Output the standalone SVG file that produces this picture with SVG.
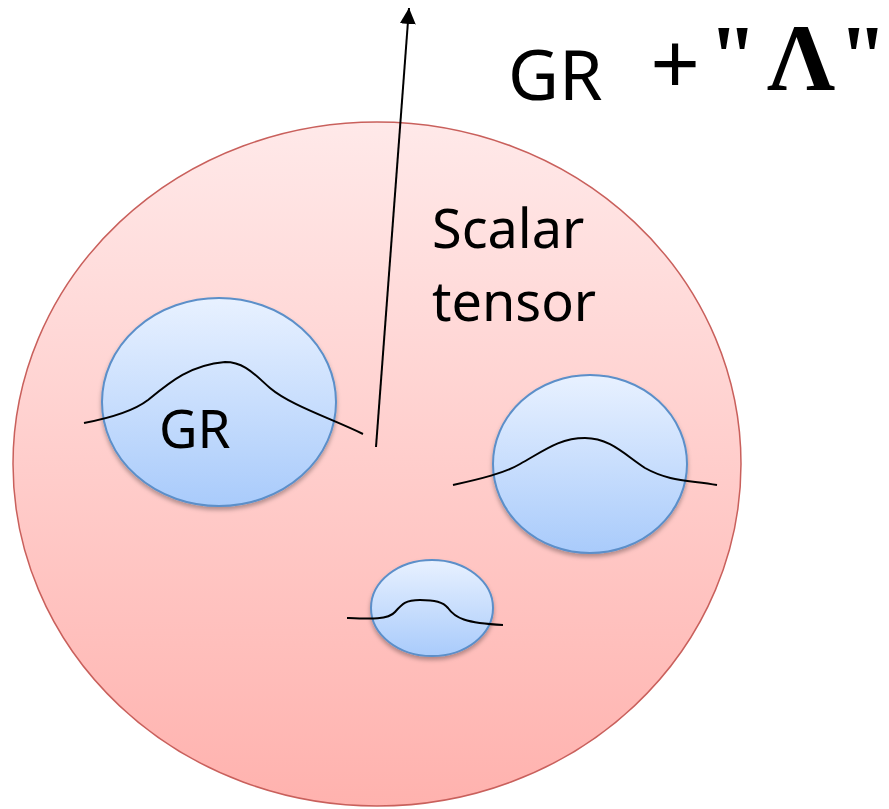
<svg xmlns="http://www.w3.org/2000/svg" width="889" height="809" viewBox="0 0 889 809">
<style>
.lbl{font-family:"Noto Sans","Open Sans",sans-serif;fill:#000}
.ser{font-family:"Liberation Serif","DejaVu Serif",serif;font-weight:bold;fill:#000}
.bub{fill:url(#blue);stroke:#5b8fc9;stroke-width:2;filter:url(#sh)}
.wave{fill:none;stroke:#000;stroke-width:2}
</style>
<defs>
<linearGradient id="red" x1="0" y1="0" x2="0" y2="1">
<stop offset="0" stop-color="#ffe9e9"/>
<stop offset="1" stop-color="#ffb2ae"/>
</linearGradient>
<linearGradient id="blue" x1="0" y1="0" x2="0" y2="1">
<stop offset="0" stop-color="#e8f1ff"/>
<stop offset="1" stop-color="#a9cbfb"/>
</linearGradient>
<filter id="sh" x="-20%" y="-20%" width="140%" height="150%">
<feDropShadow dx="0" dy="3" stdDeviation="2" flood-color="#000" flood-opacity="0.3"/>
</filter>
<marker id="ah" viewBox="0 0 10 10" refX="10" refY="5" markerWidth="16" markerHeight="16" orient="auto" markerUnits="userSpaceOnUse">
<path d="M0,0 L10,5 L0,10 z" fill="#000"/>
</marker>
</defs>
<g id="scalar-tensor">
<ellipse cx="377" cy="464" rx="364" ry="342" fill="url(#red)" stroke="#c9605c" stroke-width="1.5"/>
<text class="lbl" x="432" y="248" font-size="54">Scalar</text>
<text class="lbl" x="432" y="321" font-size="54">tensor</text>
</g>
<g id="gr-bubble">
<ellipse class="bub" cx="219" cy="402" rx="117" ry="104"/>
<text class="lbl" x="159" y="448" font-size="53">GR</text>
</g>
<g id="bubble-right">
<ellipse class="bub" cx="590" cy="464" rx="97" ry="89"/>
</g>
<g id="bubble-small">
<ellipse class="bub" cx="432" cy="608" rx="61" ry="48"/>
</g>
<g id="title">
<text class="lbl" x="508" y="100" font-size="70">GR</text>
<text class="ser" x="675" y="94" font-size="88" text-anchor="middle">+</text>
<text class="ser" x="733" y="86" font-size="88" text-anchor="middle">"</text>
<text class="ser" x="801" y="90" font-size="95" text-anchor="middle">Λ</text>
<text class="ser" x="863" y="86" font-size="88" text-anchor="middle">"</text>
</g>
<g id="connectors">
<path class="wave" d="M84,423 C110,418 135,410 148,400 C170,382 190,365 225,362 C245,362 255,375 270,388 C290,405 330,418 363,434"/>
<path class="wave" d="M453,485 C480,479 505,473 520,464 C545,450 560,438 585,438 C610,438 625,455 645,468 C670,482 690,480 717,485"/>
<path class="wave" d="M347,618 C370,619 388,620 395,612 C402,604 405,600 420,600 C435,600 443,602 448,608 C455,618 465,623 503,625"/>
<line x1="376" y1="447" x2="409" y2="8" stroke="#000" stroke-width="2" marker-end="url(#ah)"/>
</g>
</svg>
